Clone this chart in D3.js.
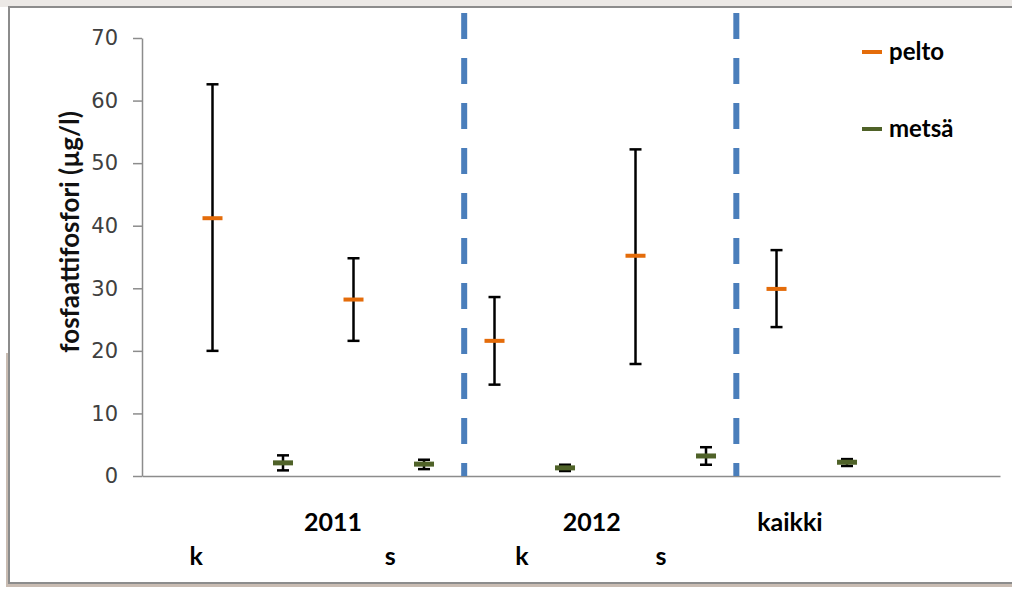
<!DOCTYPE html>
<html>
<head>
<meta charset="utf-8">
<script src="https://cdn.jsdelivr.net/npm/d3@7"></script>
<style>
  html, body { margin: 0; padding: 0; background: #ffffff; }
  svg { display: block; }
</style>
</head>
<body>
<svg id="chart" width="1012" height="589"></svg>
<script>
// Phosphate phosphorus (µg/l): means and ranges for field (pelto) and forest (metsä) sites
const periods    = ["2011 k", "2011 s", "2012 k", "2012 s", "kaikki"];
const peltoMean  = [41.2, 28.2, 21.6, 35.2, 29.9];
const peltoLow   = [20.0, 21.6, 14.6, 17.9, 23.8];
const peltoHigh  = [62.6, 34.8, 28.6, 52.2, 36.1];
const metsaMean  = [2.1, 1.9, 1.3, 3.2, 2.2];
const metsaLow   = [0.9, 1.1, 0.8, 1.8, 1.6];
const metsaHigh  = [3.3, 2.6, 1.8, 4.6, 2.7];
const yTicks     = [0, 10, 20, 30, 40, 50, 60, 70];
const yearLabels = [{ text: "2011", at: 2.71 }, { text: "2012", at: 6.38 }, { text: "kaikki", at: 9.19 }];
const seasonLabels = [{ text: "k", at: 0.77 }, { text: "s", at: 3.52 }, { text: "k", at: 5.39 }, { text: "s", at: 7.36 }];
const dividers   = [4.57, 8.43];
const seriesNames = ["pelto", "metsä"];
const seriesColors = ["#e46c0a", "#4f6228"];

const svg = d3.select("#chart");

// frame around the chart
svg.append("rect").attr("x", 0).attr("y", 0).attr("width", 1012).attr("height", 7).attr("fill", "#ece9e6");
svg.append("rect").attr("x", 8).attr("y", 6).attr("width", 1004).attr("height", 2).attr("fill", "#8c8c8c");
svg.append("rect").attr("x", 8).attr("y", 6).attr("width", 2).attr("height", 578).attr("fill", "#8c8c8c");
svg.append("rect").attr("x", 6).attr("y", 353).attr("width", 2).attr("height", 234).attr("fill", "#c9bcb2");
svg.append("rect").attr("x", 8).attr("y", 582).attr("width", 1004).attr("height", 2).attr("fill", "#8c8c8c");
svg.append("rect").attr("x", 6).attr("y", 584).attr("width", 1006).attr("height", 3).attr("fill", "#c9bcb2");

// scales: one slot per point, pelto and metsä alternating
const x = d3.scaleLinear().domain([0, 12.17]).range([142, 1000]);
const y = d3.scaleLinear().domain([0, 70]).range([476, 38]);

const peltoData = periods.map((p, i) => ({ slot: 1 + 2 * i, mean: peltoMean[i], lo: peltoLow[i], hi: peltoHigh[i] }));
const metsaData = periods.map((p, i) => ({ slot: 2 + 2 * i, mean: metsaMean[i], lo: metsaLow[i], hi: metsaHigh[i] }));

// y axis
const yAxis = svg.append("g")
  .attr("transform", `translate(${x(0)},0)`)
  .call(d3.axisLeft(y).tickValues(yTicks).tickSize(9).tickSizeOuter(0).tickPadding(15));
yAxis.select(".domain").attr("stroke", "#8c8c8c").attr("stroke-width", 1.5);
yAxis.selectAll(".tick line").attr("stroke", "#8c8c8c").attr("stroke-width", 1.5);
yAxis.selectAll(".tick text")
  .attr("fill", "#404040")
  .style("font-family", "'DejaVu Sans', sans-serif")
  .style("font-size", "21px");

// x axis line
const xAxis = svg.append("g")
  .attr("transform", `translate(0,${y(0)})`)
  .call(d3.axisBottom(x).tickValues([]).tickSizeOuter(0));
xAxis.select(".domain").attr("stroke", "#8c8c8c").attr("stroke-width", 1.5);

// y axis title
svg.append("text")
  .attr("transform", `translate(79,232) rotate(-90)`)
  .attr("text-anchor", "middle")
  .style("font-family", "Lato, 'Open Sans', sans-serif")
  .style("font-weight", "bold")
  .style("font-size", "26px")
  .attr("fill", "#111")
  .text("fosfaattifosfori (µg/l)");

// dashed dividers between periods
svg.selectAll("line.divider").data(dividers).join("line")
  .attr("class", "divider")
  .attr("x1", d => x(d)).attr("x2", d => x(d))
  .attr("y1", 13).attr("y2", y(0))
  .attr("stroke", "#4a7ebb")
  .attr("stroke-width", 6)
  .attr("stroke-dasharray", "26 19");

// error bars and mean markers
function drawSeries(data, color, markerH) {
  const g = svg.append("g");
  g.selectAll("line.bar").data(data).join("line")
    .attr("x1", d => x(d.slot)).attr("x2", d => x(d.slot))
    .attr("y1", d => y(d.hi)).attr("y2", d => y(d.lo))
    .attr("stroke", "#000").attr("stroke-width", 2.5);
  ["hi", "lo"].forEach(k => {
    g.selectAll("line.cap-" + k).data(data).join("line")
      .attr("x1", d => x(d.slot) - 6).attr("x2", d => x(d.slot) + 6)
      .attr("y1", d => y(d[k])).attr("y2", d => y(d[k]))
      .attr("stroke", "#000").attr("stroke-width", 2.5);
  });
  g.selectAll("rect.mean").data(data).join("rect")
    .attr("x", d => x(d.slot) - 10)
    .attr("y", d => y(d.mean) - markerH / 2)
    .attr("width", 20).attr("height", markerH)
    .attr("fill", color);
}
drawSeries(peltoData, seriesColors[0], 4);
drawSeries(metsaData, seriesColors[1], 5);

// category labels
const labelFont = "Lato, 'Open Sans', sans-serif";
svg.selectAll("text.year").data(yearLabels).join("text")
  .attr("x", d => x(d.at)).attr("y", 531)
  .attr("text-anchor", "middle")
  .style("font-family", labelFont).style("font-weight", "bold").style("font-size", "25px")
  .attr("fill", "#000")
  .text(d => d.text);
svg.selectAll("text.season").data(seasonLabels).join("text")
  .attr("x", d => x(d.at)).attr("y", 565)
  .attr("text-anchor", "middle")
  .style("font-family", labelFont).style("font-weight", "bold").style("font-size", "25px")
  .attr("fill", "#000")
  .text(d => d.text);

// legend
const legend = svg.append("g");
seriesNames.forEach((name, i) => {
  const ly = 52 + i * 77;
  legend.append("rect").attr("x", 862).attr("y", ly - 2).attr("width", 20).attr("height", 4).attr("fill", seriesColors[i]);
  legend.append("text")
    .attr("x", 889).attr("y", ly + 8)
    .style("font-family", labelFont).style("font-weight", "bold").style("font-size", "24px")
    .attr("fill", "#000")
    .text(name);
});
</script>
</body>
</html>
